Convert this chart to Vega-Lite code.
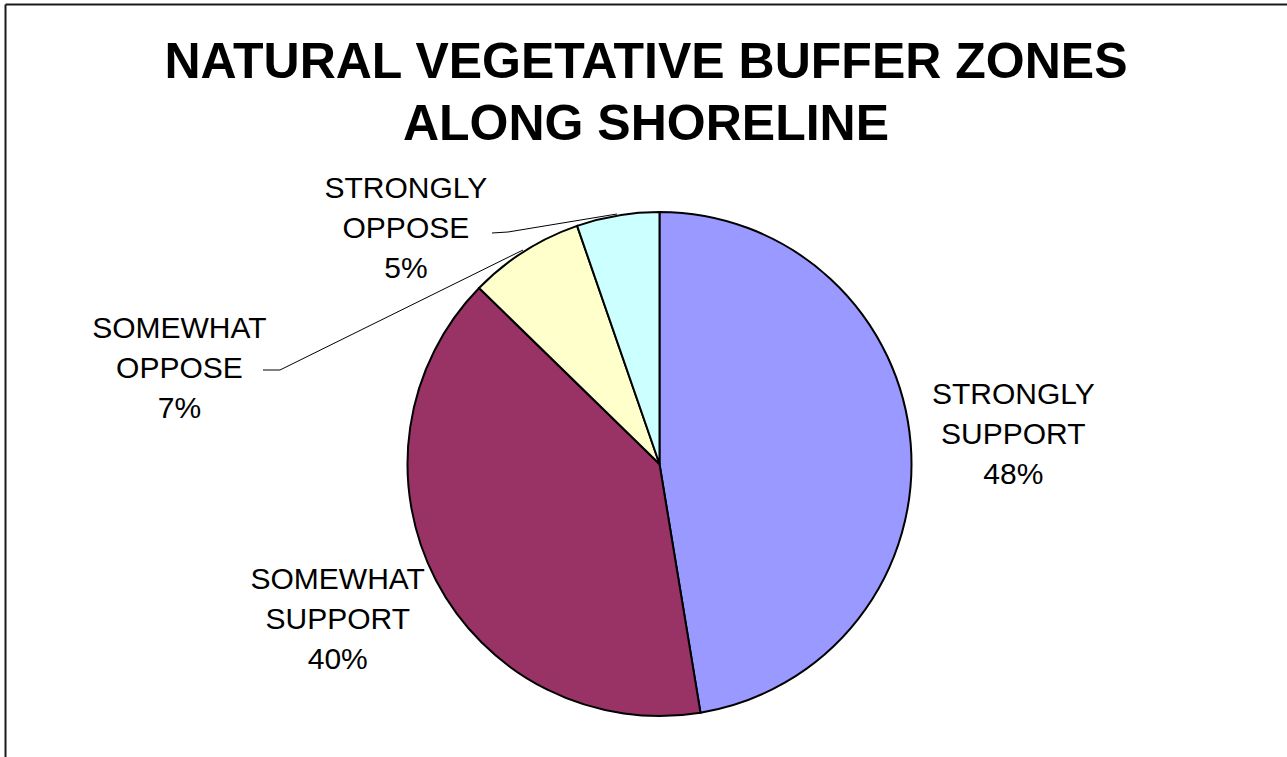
{
  "$schema": "https://vega.github.io/schema/vega-lite/v6.json",
  "width": 1282,
  "height": 753,
  "autosize": {"type": "none"},
  "padding": {"left": 5, "top": 4, "right": 0, "bottom": 0},
  "background": "white",
  "config": {"view": {"stroke": null}, "font": "Liberation Sans"},
  "title": {
    "text": ["NATURAL VEGETATIVE BUFFER ZONES", "ALONG SHORELINE"],
    "font": "Liberation Sans",
    "fontSize": 50,
    "fontWeight": "bold",
    "lineHeight": 62,
    "anchor": "middle",
    "offset": -146,
    "color": "black"
  },
  "resolve": {"axis": {"x": "independent", "y": "independent"}},
  "datasets": {
    "slices": [
      {"category": "STRONGLY SUPPORT", "n": 1, "value": 47.4, "label": "STRONGLY\nSUPPORT\n48%"},
      {"category": "SOMEWHAT SUPPORT", "n": 2, "value": 39.9, "label": "SOMEWHAT\nSUPPORT\n40%"},
      {"category": "SOMEWHAT OPPOSE", "n": 3, "value": 7.4, "label": "SOMEWHAT\nOPPOSE\n7%"},
      {"category": "STRONGLY OPPOSE", "n": 4, "value": 5.3, "label": "STRONGLY\nOPPOSE\n5%"}
    ],
    "leaders": [
      {"g": "STRONGLY OPPOSE", "i": 1, "x": -0.6647, "y": 0.9167},
      {"g": "STRONGLY OPPOSE", "i": 2, "x": -0.6012, "y": 0.9206},
      {"g": "STRONGLY OPPOSE", "i": 3, "x": -0.1687, "y": 0.9921},
      {"g": "SOMEWHAT OPPOSE", "i": 1, "x": -1.5734, "y": 0.373},
      {"g": "SOMEWHAT OPPOSE", "i": 2, "x": -1.506, "y": 0.373},
      {"g": "SOMEWHAT OPPOSE", "i": 3, "x": -0.5417, "y": 0.8492}
    ]
  },
  "layer": [
    {
      "data": {"name": "slices"},
      "mark": {"type": "arc", "outerRadius": 252, "stroke": "black", "strokeWidth": 2},
      "encoding": {
        "theta": {"field": "value", "type": "quantitative", "stack": true},
        "order": {"field": "n", "type": "quantitative"},
        "color": {
          "field": "category", "type": "nominal", "legend": null,
          "scale": {
            "domain": ["STRONGLY SUPPORT", "SOMEWHAT SUPPORT", "SOMEWHAT OPPOSE", "STRONGLY OPPOSE"],
            "range": ["#9999FF", "#993366", "#FFFFCC", "#CCFFFF"]
          }
        },
        "x": {"datum": 0, "type": "quantitative", "scale": {"domain": [-2.5972, 2.4901], "nice": false, "zero": false},
              "axis": {"orient": "top", "domain": true, "domainColor": "#1a1a1a", "domainWidth": 2, "ticks": false, "labels": false, "grid": false, "title": null}},
        "y": {"datum": 0, "type": "quantitative", "scale": {"domain": [-1.1627, 1.8254], "nice": false, "zero": false},
              "axis": {"orient": "left", "domain": true, "domainColor": "#1a1a1a", "domainWidth": 2, "ticks": false, "labels": false, "grid": false, "title": null}}
      }
    },
    {
      "data": {"name": "slices"},
      "mark": {"type": "text", "radius": 355, "dy": -40, "fontSize": 30, "lineHeight": 40, "lineBreak": "\n", "align": "center", "baseline": "middle", "color": "black", "font": "Liberation Sans"},
      "encoding": {
        "theta": {"field": "value", "type": "quantitative", "stack": true},
        "order": {"field": "n", "type": "quantitative"},
        "detail": {"field": "category", "type": "nominal"},
        "text": {"field": "label", "type": "nominal", "condition": {"test": "datum.n !== 1", "value": ""}},
        "x": {"datum": 0, "type": "quantitative", "axis": null},
        "y": {"datum": 0, "type": "quantitative", "axis": null}
      }
    },
    {
      "data": {"name": "slices"},
      "mark": {"type": "text", "radius": 355, "dx": -7, "dy": -48, "fontSize": 30, "lineHeight": 40, "lineBreak": "\n", "align": "center", "baseline": "middle", "color": "black", "font": "Liberation Sans"},
      "encoding": {
        "theta": {"field": "value", "type": "quantitative", "stack": true},
        "order": {"field": "n", "type": "quantitative"},
        "detail": {"field": "category", "type": "nominal"},
        "text": {"field": "label", "type": "nominal", "condition": {"test": "datum.n !== 2", "value": ""}},
        "x": {"datum": 0, "type": "quantitative", "axis": null},
        "y": {"datum": 0, "type": "quantitative", "axis": null}
      }
    },
    {
      "data": {"name": "slices"},
      "mark": {"type": "text", "radius": 239, "dx": -214, "dy": -39, "fontSize": 30, "lineHeight": 40, "lineBreak": "\n", "align": "center", "baseline": "middle", "color": "black", "font": "Liberation Sans"},
      "encoding": {
        "theta": {"field": "value", "type": "quantitative", "stack": true},
        "order": {"field": "n", "type": "quantitative"},
        "detail": {"field": "category", "type": "nominal"},
        "text": {"field": "label", "type": "nominal", "condition": {"test": "datum.n !== 4", "value": ""}},
        "x": {"datum": 0, "type": "quantitative", "axis": null},
        "y": {"datum": 0, "type": "quantitative", "axis": null}
      }
    },
    {
      "data": {"name": "slices"},
      "mark": {"type": "text", "radius": 114, "dx": -419, "dy": -39, "fontSize": 30, "lineHeight": 40, "lineBreak": "\n", "align": "center", "baseline": "middle", "color": "black", "font": "Liberation Sans"},
      "encoding": {
        "theta": {"field": "value", "type": "quantitative", "stack": true},
        "order": {"field": "n", "type": "quantitative"},
        "detail": {"field": "category", "type": "nominal"},
        "text": {"field": "label", "type": "nominal", "condition": {"test": "datum.n !== 3", "value": ""}},
        "x": {"datum": 0, "type": "quantitative", "axis": null},
        "y": {"datum": 0, "type": "quantitative", "axis": null}
      }
    },
    {
      "data": {"name": "leaders"},
      "mark": {"type": "line", "color": "black", "strokeWidth": 1},
      "encoding": {
        "x": {"field": "x", "type": "quantitative", "axis": null},
        "y": {"field": "y", "type": "quantitative", "axis": null},
        "detail": {"field": "g", "type": "nominal"},
        "order": {"field": "i", "type": "quantitative"}
      }
    }
  ]
}
